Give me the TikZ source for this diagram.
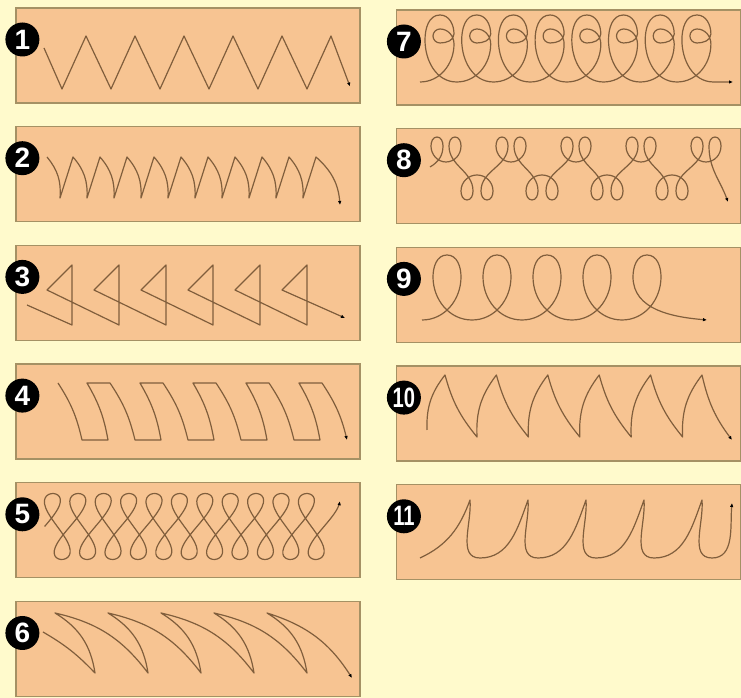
\documentclass[tikz,border=0pt]{standalone}
\usepackage{fontspec}
\usepackage{graphicx}
\setsansfont{Liberation Sans}
\usetikzlibrary{arrows.meta}
\definecolor{bgyellow}{RGB}{255,250,204}
\definecolor{panelpeach}{RGB}{247,196,146}
\definecolor{panelline}{RGB}{165,145,100}
\definecolor{weavebrown}{RGB}{128,94,60}

\begin{document}
\begin{tikzpicture}[x=1pt, y=1pt,
    panel/.style={draw=panelline, fill=panelpeach, line width=1.2pt, minimum width=344pt, minimum height=95pt, inner sep=0pt},
    badge/.style={circle, fill=black, text=white, minimum size=34pt, inner sep=0pt, font=\sffamily\bfseries\fontsize{28}{28}\selectfont},
    weave/.style={draw=weavebrown, line width=1.2pt, line join=round, -{Latex[length=4pt, width=3.5pt, color=black]}}]
    \fill[bgyellow] (0,0) rectangle (741,698);
    \useasboundingbox (0,0) rectangle (741,698);

    % panels
    \node[panel] (p1) at (188, 642.5) {};
    \node[panel] (p2) at (188, 523.8) {};
    \node[panel] (p3) at (188, 405.1) {};
    \node[panel] (p4) at (188, 286.4) {};
    \node[panel] (p5) at (188, 167.7) {};
    \node[panel] (p6) at (188, 49.0) {};
    \node[panel] (p7) at (568.5, 640.5) {};
    \node[panel] (p8) at (568.5, 521.8) {};
    \node[panel] (p9) at (568.5, 403.1) {};
    \node[panel] (p10) at (568.5, 284.4) {};
    \node[panel] (p11) at (568.5, 165.7) {};

    % 1 zigzag
    \begin{scope}[shift={(p1.center)}]
        \draw[weave] (-144,7.5) \foreach \k in {0,...,5} { -- ({-126+49*\k},-33.5) -- ({-102+49*\k},19.5) } -- (162,-31);
    \end{scope}

    % 2 scallops
    \begin{scope}[shift={(p2.center)}]
        \draw[weave] (-141,17.2) to[bend left=22] (-128,-23.8) \foreach \k in {0,...,8} { -- ({-115+27*\k},17.2) to[bend left=22] ({-101+27*\k},-23.8) } -- (128,17.2) to[bend left=22] (152,-30.8);
    \end{scope}

    % 3 triangles
    \begin{scope}[shift={(p3.center)}]
        \draw[weave] (-161,-12.1) \foreach \k in {0,...,5} { -- ({-116+47*\k},-32.1) -- ({-116+47*\k},27.9) -- ({-141+47*\k},2.9) } -- (157,-25.1);
    \end{scope}

    % 4 boxes
    \begin{scope}[shift={(p4.center)}]
        \draw[weave] (-130,28.6) to[bend left=10] (-106,-28.4) \foreach \k in {0,...,4} { -- ({-80+53*\k},-28.4) to[bend right=10] ({-101+53*\k},28.6) -- ({-78+53*\k},28.6) to[bend left=10] ({-53+53*\k},-28.4) };
    \end{scope}

    % 5 figure eights
    \begin{scope}[shift={(p5.center)}]
        \draw[weave] plot[smooth, domain=0:4010, samples=500] ({-143.4+\x/360*25.4+11*sin(2*\x)+1.9*sin(\x)}, {3.8+33*sin(\x)});
    \end{scope}

    % 6 crescents
    \begin{scope}[shift={(p6.center)}]
        \draw[weave] (-145,17) to[bend left=8] (-93,-24) \foreach \k in {0,...,3} { to[bend right=25] ({-133+53*\k},36) to[bend left=20] ({-40+53*\k},-24) } to[bend right=25] (79,36) to[bend left=20] (164,-29);
    \end{scope}

    % 7 loops with curls
    \begin{scope}[shift={(p7.center)}]
        \draw[weave] (-148.5,-24.5) \foreach \k in {0,...,7} { to[out=0,in=-90] ({-114.5+36.7*\k},13.5) to[out=90,in=0] ({-128.5+36.7*\k},28.5) to[out=180,in=90] ({-135.5+36.7*\k},21.5) to[out=-90,in=180] ({-128.5+36.7*\k},14.5) to[out=0,in=-90] ({-114.5+36.7*\k},23.5) to[out=90,in=0] ({-128.5+36.7*\k},42.5) to[out=180,in=90] ({-143.5+36.7*\k},17.5) to[out=-90,in=180] ({-111.8+36.7*\k},-24.5) } -- (164.5,-24.5);
    \end{scope}

    % 8 paired loops
    \begin{scope}[shift={(p8.center)}]
        \draw[weave] (-138.5,9.2) to[out=30,in=-90] (-125.5,30.2) \foreach \k in {0,...,3} { to[out=90,in=0] ({-131.5+65*\k},39.2) to[out=180,in=90] ({-137.5+65*\k},30.2) to[out=-90,in=180] ({-122.5+65*\k},14.2) to[out=0,in=-90] ({-107.5+65*\k},30.2) to[out=90,in=0] ({-113.5+65*\k},39.2) to[out=180,in=90] ({-119.5+65*\k},30.2) to[out=-90,in=90] ({-95.5+65*\k},-14.8) to[out=-90,in=0] ({-101.5+65*\k},-23.8) to[out=180,in=-90] ({-107.5+65*\k},-14.8) to[out=90,in=180] ({-91.5+65*\k},1.2) to[out=0,in=90] ({-75.5+65*\k},-14.8) to[out=-90,in=0] ({-81.5+65*\k},-23.8) to[out=180,in=-90] ({-87.5+65*\k},-14.8) to[out=90,in=-90] ({-60.5+65*\k},30.2) } to[out=90,in=0] (128.5,39.2) to[out=180,in=90] (122.5,30.2) to[out=-90,in=180] (137.5,14.2) to[out=0,in=-90] (152.5,30.2) to[out=90,in=0] (146.5,39.2) to[out=180,in=90] (140.5,30.2) to[out=-90,in=110] (159.5,-25.8);
    \end{scope}

    % 9 loops
    \begin{scope}[shift={(p9.center)}]
        \draw[weave] (-146.5,-25.1) \foreach \k in {0,...,3} { to[out=0,in=-90] ({-107.5+50*\k},18) to[out=90,in=0] ({-121.5+50*\k},39.9) to[out=180,in=90] ({-135.5+50*\k},18) to[out=-90,in=180] ({-96.5+50*\k},-25.1) } to[out=0,in=-90] (92.5,18) to[out=90,in=0] (78.5,39.9) to[out=180,in=90] (64.5,18) to[out=-90,in=175] (138.5,-25.1);
    \end{scope}

    % 10 fins
    \begin{scope}[shift={(p10.center)}]
        \draw[weave] (-141.5,-16.4) to[bend left=20] (-123.5,38.6) \foreach \k in {0,...,4} { to[bend right=12] ({-91.5+51.4*\k},-23.4) to[bend left=20] ({-72.1+51.4*\k},38.6) } to[bend right=12] (163.5,-26.4);
    \end{scope}

    % 11 hooks
    \begin{scope}[shift={(p11.center)}]
        \draw[weave] (-148.5,-25.7) to[out=25,in=250] (-98.5,32.3) \foreach \k in {0,...,3} { to[out=-85,in=180] ({-88.5+58*\k},-25.7) to[out=0,in=250] ({-40.5+58*\k},32.3) } to[out=-85,in=180] (143.5,-25.7) to[out=0,in=265] (163.5,29.3);
    \end{scope}

    % badges
    \node[badge] (b1) at ([xshift=7pt, yshift=16pt]p1.west) {1};
    \node[badge] (b2) at ([xshift=7pt, yshift=16pt]p2.west) {2};
    \node[badge] (b3) at ([xshift=7pt, yshift=16pt]p3.west) {3};
    \node[badge] (b4) at ([xshift=7pt, yshift=16pt]p4.west) {4};
    \node[badge] (b5) at ([xshift=7pt, yshift=16pt]p5.west) {5};
    \node[badge] (b6) at ([xshift=7pt, yshift=16pt]p6.west) {6};
    \node[badge] (b7) at ([xshift=8pt, yshift=16pt]p7.west) {7};
    \node[badge] (b8) at ([xshift=8pt, yshift=16pt]p8.west) {8};
    \node[badge] (b9) at ([xshift=8pt, yshift=16pt]p9.west) {9};
    \node[badge] (b10) at ([xshift=8pt, yshift=16pt]p10.west) {\scalebox{0.72}[1]{10}};
    \node[badge] (b11) at ([xshift=8pt, yshift=16pt]p11.west) {\scalebox{0.72}[1]{11}};
\end{tikzpicture}
\end{document}
